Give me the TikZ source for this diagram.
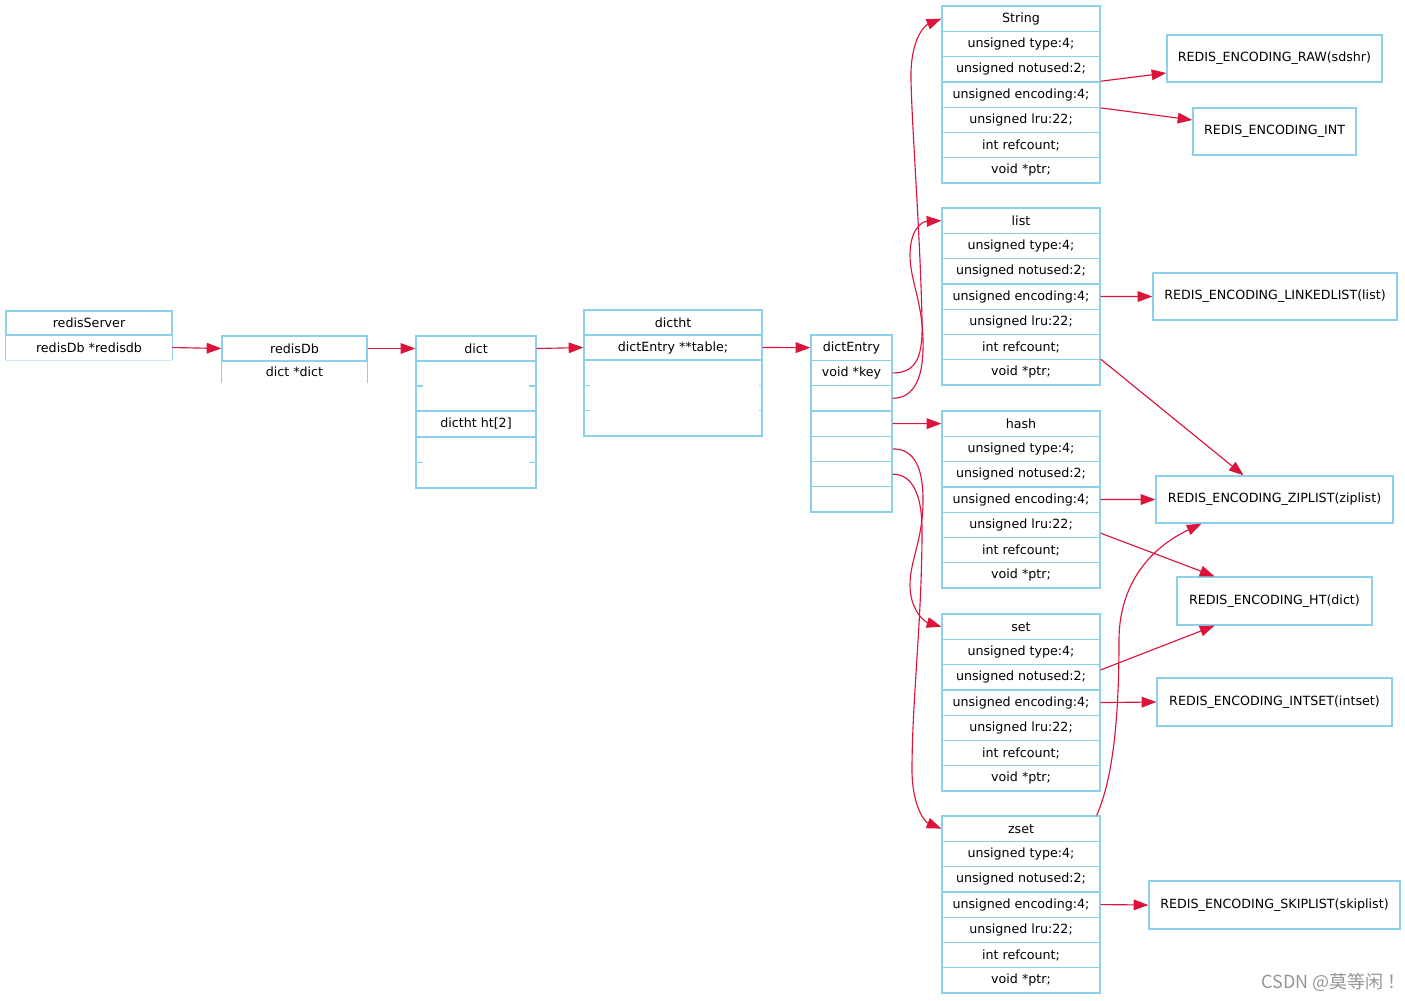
\documentclass[tikz,border=0pt]{standalone}
\usepackage{fontspec}
\setmainfont{DejaVu Sans}
\newfontfamily\cjk{Noto Sans CJK SC}
\usetikzlibrary{calc,arrows.meta}
\definecolor{sky}{RGB}{140,208,236}
\definecolor{arr}{RGB}{220,20,60}
\definecolor{wmgray}{RGB}{150,150,150}
\newcommand\objrec[3]{%
  \foreach \txt [count=\k from 0] in {#2,unsigned type:4;,unsigned notused:2;,unsigned encoding:4;,unsigned lru:22;,int refcount;,void *ptr;}{
    \node[cell, minimum width=118.5pt] (#1-\k) at (1021,{#3+12.65+25.3*\k}) {\txt};
  }%
}
\begin{document}
\begin{tikzpicture}[x=0.75pt,y=-0.75pt,
  font=\fontsize{9.5pt}{11pt}\selectfont,
  cell/.style={draw=sky, line width=1pt, minimum height=18.975pt, inner sep=0pt},
  side/.style={draw=sky, line width=1pt},
  enc/.style={draw=sky, line width=1pt, inner sep=0pt, minimum height=35.25pt},
  arrow/.style={draw=arr, line width=0.85pt, -{Triangle[length=11pt,width=8pt]}}]
\useasboundingbox (0,0) rectangle (1405,1000);
\fill[white] (0,0) rectangle (1405,1000);

% redisServer
\node[cell, minimum width=124.5pt, minimum height=18pt] (rs0) at (89,323) {redisServer};
\node[inner sep=0pt, minimum width=124.5pt, minimum height=18.75pt] (rs1) at (89,347.5) {redisDb *redisdb};
\draw[side] (rs1.north west) -- (rs1.south west);
\draw[side] (rs1.north east) -- (rs1.south east);
\draw[draw=sky!45, line width=1pt] (rs1.south west) -- (rs1.south east);

% redisDb
\node[cell, minimum width=108.75pt, minimum height=18.75pt] (rdb0) at (294.5,348.5) {redisDb};
\node[inner sep=0pt, minimum width=108.75pt, minimum height=16.5pt] (rdb1) at (294.5,372) {dict *dict};
\draw[side] (rdb1.north west) -- (rdb1.south west);
\draw[side] (rdb1.north east) -- (rdb1.south east);

% dict
\node[cell, minimum width=90pt, minimum height=18.75pt] (d0) at (476,348.5) {dict};
\node[cell, minimum width=90pt, minimum height=37.5pt] (d1) at (476,386) {};
\node[cell, minimum width=90pt, minimum height=19.5pt] (d2) at (476,424) {dictht ht[2]};
\node[cell, minimum width=90pt, minimum height=38.25pt] (d3) at (476,462.5) {};
\draw[side] (d1.west) -- ++(8,0);
\draw[side] (d1.east) -- ++(-8,0);
\draw[side] (d3.west) -- ++(8,0);
\draw[side] (d3.east) -- ++(-8,0);

% dictht
\node[cell, minimum width=133.5pt, minimum height=18.75pt] (dh0) at (673,322.5) {dictht};
\node[cell, minimum width=133.5pt, minimum height=18.75pt] (dh1) at (673,347.5) {dictEntry **table;};
\node[cell, minimum width=133.5pt, minimum height=57pt] (dh2) at (673,398) {};
\draw[side] ($(dh2.north west)+(0,26)$) -- ++(7,0);
\draw[side] ($(dh2.north west)+(0,51)$) -- ++(7,0);
\draw[side] ($(dh2.north east)+(0,26)$) -- ++(-4,0);
\draw[side] ($(dh2.north east)+(0,51)$) -- ++(-4,0);

% dictEntry
\foreach \txt [count=\k from 0] in {dictEntry,void *key,{},{},{},{},{}}{
  \node[cell, minimum width=60.75pt] (de-\k) at (851.5,{335+12.65+25.3*\k}) {\txt};
}

% objects
\objrec{str}{String}{6}
\objrec{lst}{list}{208}
\objrec{hsh}{hash}{411}
\objrec{st}{set}{614}
\objrec{zs}{zset}{816}

% encodings
\node[enc, minimum width=161.25pt] (raw) at (1274.5,58.5) {REDIS\_ENCODING\_RAW(sdshr)};
\node[enc, minimum width=122.25pt] (int) at (1274.5,131.5) {REDIS\_ENCODING\_INT};
\node[enc, minimum width=183pt] (lnk) at (1275,296.5) {REDIS\_ENCODING\_LINKEDLIST(list)};
\node[enc, minimum width=177.75pt] (zip) at (1274.5,499.5) {REDIS\_ENCODING\_ZIPLIST(ziplist)};
\node[enc, minimum width=146.25pt, minimum height=36pt] (ht) at (1274.5,601) {REDIS\_ENCODING\_HT(dict)};
\node[enc, minimum width=176.25pt, minimum height=36pt] (iset) at (1274.5,702) {REDIS\_ENCODING\_INTSET(intset)};
\node[enc, minimum width=188.25pt, minimum height=36pt] (skip) at (1274.5,905) {REDIS\_ENCODING\_SKIPLIST(skiplist)};

% chain arrows
\draw[arrow] (rs1.east) -- (rdb0.west);
\draw[arrow] (rdb0.east) -- (d0.west);
\draw[arrow] (d0.east) -- (dh1.west);
\draw[arrow] (dh1.east) -- (de-0.west);

% dictEntry curves
\coordinate (k1) at (922,320);
\coordinate (k2) at (911,80);
\draw[arrow] (de-1.east) .. controls +(25,0) and +(1,35) .. (k1)
  .. controls +(-2,-90) and +(1,50) .. (k2)
  .. controls +(-1,-40) and +(-17,7) .. (str-0.west);
\coordinate (l1) at (923,340);
\coordinate (l2) at (910,255);
\draw[arrow] (de-2.east) .. controls +(23,0) and +(1,35) .. (l1)
  .. controls +(-1,-40) and +(0,25) .. (l2)
  .. controls +(0,-25) and +(-20,1) .. (lst-0.west);
\draw[arrow] (de-3.east) -- (hsh-0.west);
\coordinate (h1) at (923,500);
\coordinate (h2) at (910,585);
\draw[arrow] (de-4.east) .. controls +(23,0) and +(0,-30) .. (h1)
  .. controls +(0,40) and +(0,-25) .. (h2)
  .. controls +(0,25) and +(-17,-5) .. (st-0.west);
\coordinate (z1) at (922,530);
\coordinate (z2) at (912,770);
\draw[arrow] (de-5.east) .. controls +(20,0) and +(0,-35) .. (z1)
  .. controls +(0,90) and +(0,-70) .. (z2)
  .. controls +(0,35) and +(-17,-7) .. (zs-0.west);

% object -> encoding
\draw[arrow] (str-3.north east) -- ($(raw.west)+(0,14.5)$);
\draw[arrow] (str-3.south east) -- ($(int.west)+(0,-11.5)$);
\draw[arrow] (lst-3.east) -- (lnk.west);
\draw[arrow] (lst-6.north east) -- ($(zip.north)+(-31,0)$);
\draw[arrow] (hsh-3.east) -- (zip.west);
\draw[arrow] ($(hsh-4.south east)+(0,-5)$) -- ($(ht.north)+(-60,0)$);
\draw[arrow] ($(st-2.north east)+(0,6)$) -- ($(ht.south)+(-60,0)$);
\draw[arrow] (st-3.east) -- (iset.west);
\coordinate (zz1) at (1119,640);
\draw[arrow] ($(zs-0.north east)+(-4,0)$) .. controls +(16,-36) and +(0,80) .. (zz1)
  .. controls +(0,-50) and +(-57,27) .. ($(zip.south)+(-73,0)$);
\draw[arrow] (zs-3.east) -- (skip.west);

% watermark
\node[text=wmgray, font=\cjk\fontsize{13.5pt}{15pt}\selectfont, anchor=west, inner sep=0pt] (wm) at (1261,982) {CSDN @莫等闲\hspace{3pt}！};
\end{tikzpicture}
\end{document}
